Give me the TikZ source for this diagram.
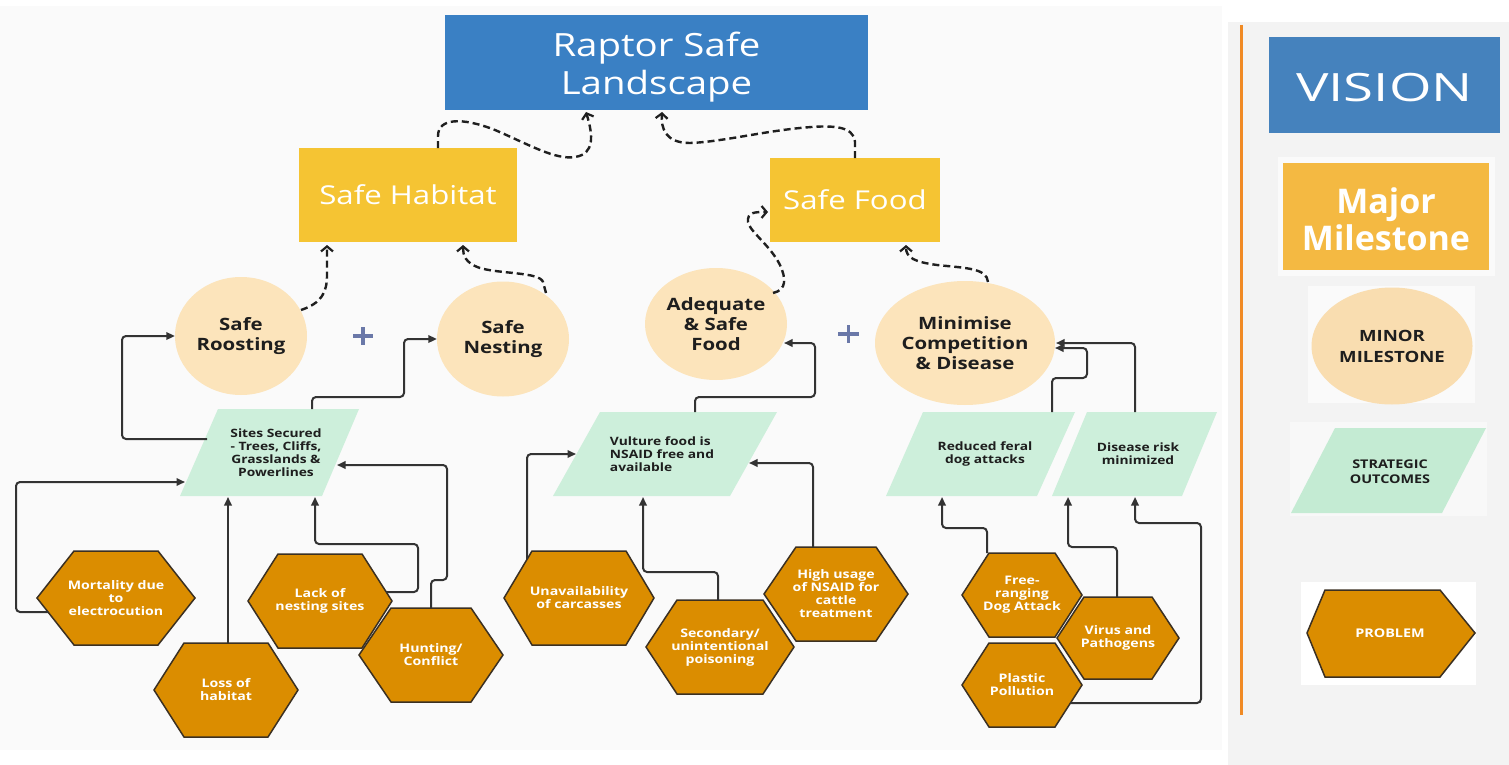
\documentclass[tikz,border=0pt]{standalone}
\usepackage{fontspec}
\setmainfont{Open Sans}[FakeStretch=1.2]
\newfontfamily\plainOS{Open Sans}
\newfontfamily\wideOS{Open Sans}[FakeStretch=1.4]
\usetikzlibrary{shapes.geometric,arrows.meta}
\definecolor{visblue}{HTML}{3A80C4}
\definecolor{majyel}{HTML}{F5C433}
\definecolor{peach}{HTML}{FCE4BB}
\definecolor{mint}{HTML}{CDEFDB}
\definecolor{hexor}{HTML}{DB8D00}
\definecolor{hexedge}{HTML}{3B3022}
\definecolor{conncol}{HTML}{333333}
\definecolor{plusc}{HTML}{6A78A8}
\definecolor{mainbg}{HTML}{FAFAFA}
\definecolor{legbg}{HTML}{F3F3F3}
\definecolor{legblue}{HTML}{4582BD}
\definecolor{legyel}{HTML}{F4B942}
\definecolor{legpeach}{HTML}{F9DDB0}
\definecolor{legmint}{HTML}{C4EBD3}
\definecolor{orangeline}{HTML}{F08A24}
\definecolor{darktext}{HTML}{1E1E1E}
\tikzset{
  conn/.style={draw=conncol, line width=2pt, rounded corners=4pt, -{Triangle[length=8.5pt,width=7.5pt]}},
  dconn/.style={draw=black!88, line width=2.4pt, dash pattern=on 7pt off 4pt, -{Straight Barb[length=5pt,width=12pt,line width=2.2pt]}},
  hexshape/.style={fill=hexor, draw=hexedge, line width=1.5pt, line join=miter},
  hextext/.style={inner sep=0pt, align=center, text=white, font=\bfseries\fontsize{11.8}{13}\selectfont},
  paratext/.style={inner sep=0pt, text=darktext, font=\bfseries\fontsize{11.5}{13}\selectfont},
  minor/.style={ellipse, fill=peach, inner sep=0pt, align=center, text=darktext, font=\bfseries\fontsize{17}{20}\selectfont},
  majbox/.style={rectangle, fill=majyel, inner sep=0pt, text=white, font=\fontsize{26}{30}\selectfont},
  visbox/.style={rectangle, fill=visblue, inner sep=0pt},
  vistext/.style={inner sep=0pt, align=center, text=white, font=\fontsize{32}{38}\selectfont},
  plusmark/.style={draw=plusc, line width=3.5pt}
}
\newcommand{\hexnode}[7]{%
  \draw[hexshape] ({#2-#4},#3) -- ({#2-#5},{#3-#6}) -- ({#2+#5},{#3-#6}) -- ({#2+#4},#3) -- ({#2+#5},{#3+#6}) -- ({#2-#5},{#3+#6}) -- cycle;
  \node[hextext, minimum width={2*#4}, minimum height={2*#6}] (#1) at (#2,#3) {#7};}
\begin{document}
\begin{tikzpicture}[x=1pt,y=-1pt]
\useasboundingbox (0,0) rectangle (1509,765);
\fill[white] (0,0) rectangle (1509,765);
\fill[mainbg] (0,6) rectangle (1222,750);
\fill[legbg] (1228,22) rectangle (1509,765);
\draw[orangeline, line width=3pt] (1241,25) -- (1241,715);

% ---------- vision and major milestones
\node[visbox, minimum width=423, minimum height=95] (vision) at (656.5,62.5) {};
\node[vistext] (visiontext) at (656.5,67) {Raptor Safe\\Landscape};
\node[majbox, minimum width=218, minimum height=94] (habitat) at (408,195) {Safe Habitat};
\node[majbox, minimum width=170, minimum height=84] (food) at (855,200) {Safe Food};

% ---------- minor milestones
\node[minor, minimum width=132, minimum height=118] (roost) at (241,336) {Safe\\Roosting};
\node[minor, minimum width=132, minimum height=115] (nest) at (503,339) {Safe\\Nesting};
\node[minor, minimum width=142, minimum height=112] (adeq) at (716,324) {Adequate\\\& Safe\\Food};
\node[minor, minimum width=180, minimum height=124] (mini) at (965,343) {Minimise\\Competition\\\& Disease};

\draw[plusmark] (353,336) -- (373,336) (363,327) -- (363,345);
\draw[plusmark] (838,334) -- (859,334) (848.5,325) -- (848.5,343);

% ---------- strategic outcomes
\fill[mint] (218,409) -- (359,409) -- (322,496) -- (180,496) -- cycle;
\node[paratext, align=center] (sites) at (276,453) {Sites Secured\\- Trees, Cliffs,\\Grasslands \&\\Powerlines};
\fill[mint] (600,412) -- (777,412) -- (730,496) -- (553,496) -- cycle;
\node[paratext, align=left] (vult) at (662,454) {Vulture food is\\NSAID free and\\available};
\fill[mint] (923,412) -- (1075,412) -- (1037,496) -- (886,496) -- cycle;
\node[paratext, align=center] (feral) at (985,454) {Reduced feral\\dog attacks};
\fill[mint] (1087,412) -- (1217,412) -- (1182,496) -- (1052,496) -- cycle;
\node[paratext, align=center] (disease) at (1138,454) {Disease risk\\minimized};

% ---------- problems
\hexnode{mort}{116}{598}{79}{42}{47}{Mortality due\\to\\electrocution}
\hexnode{loss}{226}{690}{72}{42}{47}{Loss of\\habitat}
\hexnode{lack}{320}{601}{72}{42}{47}{Lack of\\nesting sites}
\hexnode{hunt}{431}{655}{72}{40}{47}{Hunting/\\Conflict}
\hexnode{unav}{579}{598}{75}{47}{47}{Unavailability\\of carcasses}
\hexnode{second}{720}{647}{74}{43}{47}{Secondary/\\unintentional\\poisoning}
\hexnode{high}{836}{594}{72}{40}{47}{High usage\\of NSAID for\\cattle\\treatment}
\hexnode{free}{1022}{595}{60}{33}{42}{Free-\\ranging\\Dog Attack}
\hexnode{virus}{1118}{638}{61}{34}{41}{Virus and\\Pathogens}
\hexnode{plastic}{1022}{685}{60}{33}{42}{Plastic\\Pollution}

% ---------- solid connectors
\draw[conn] (207,439) -- (122,439) |- (roost.west);
\draw[conn] (312,409) -- (312,397) -- (404,397) |- (nest.west);
\draw[conn] (48,612) -- (16,612) |- (185,482);
\draw[conn] (loss.north) ++(2,0) -- (228,497);
\draw[conn] (386,592) -- (418,592) -- (418,544) -- (315,544) -- (315,497);
\draw[conn] (hunt.north) -- (431,580) -- (447,580) |- (337,465);
\draw[conn] (695,412) -- (695,397) -- (815,397) |- (784,343);
\draw[conn] (527,559) |- (576,454);
\draw[conn] (718,600) -- (718,572) -- (643,572) -- (643,497);
\draw[conn] (813,547) |- (749,463);
\draw[conn] (1052,412) -- (1052,378) -- (1087,378) |- (1055,348);
\draw[conn] (1135,412) |- (1056,343);
\draw[conn] (987,553) -- (987,528) -- (942,528) -- (942,497);
\draw[conn] (1117,597) -- (1117,547) -- (1068,547) -- (1068,497);
\draw[conn] (1070,703) -- (1201,703) -- (1201,523) -- (1135,523) -- (1135,497);

% ---------- dashed connectors
\draw[dconn] (438,148) -- (438,136) .. controls (438,118) and (462,117) .. (495,130) .. controls (530,145) and (555,160) .. (575,157) .. controls (595,154) and (593,135) .. (586,112);
\draw[dconn] (855,158) -- (855,142) .. controls (854,125) and (830,125) .. (800,128) .. controls (760,132) and (720,142) .. (690,143) .. controls (665,143) and (661,128) .. (662,112);
\draw[dconn] (301,310) .. controls (322,303) and (327,292) .. (327,275) -- (327,245);
\draw[dconn] (546,293) -- (543,282) .. controls (540,272) and (500,274) .. (480,268) .. controls (465,263) and (463,255) .. (463,245);
\draw[dconn] (773,293) .. controls (787,290) and (786,278) .. (780,265) .. controls (770,245) and (750,232) .. (748,222) .. controls (747,212) and (755,212) .. (768,212);
\draw[dconn] (988,282) .. controls (987,268) and (965,268) .. (937,265) .. controls (915,262) and (906,258) .. (906,245);

% ---------- legend
\node[rectangle, fill=legblue, minimum width=231, minimum height=96, inner sep=0pt] (lvision) at (1384.5,85) {};
\node[inner sep=0pt, text=white, font=\wideOS\fontsize{39}{44}\selectfont] (lvisiontext) at (1384.5,88) {VISION};
\fill[white!55!legbg] (1278,157) rectangle (1495,276);
\node[rectangle, fill=legyel, minimum width=206, minimum height=107, inner sep=0pt] (lmajor) at (1386,216.5) {};
\node[inner sep=0pt, align=center, text=white, font=\plainOS\bfseries\fontsize{34}{37}\selectfont] (lmajortext) at (1386,219) {Major\\Milestone};
\fill[white!60!legbg] (1308,286) rectangle (1475,403);
\node[ellipse, fill=legpeach, minimum width=161, minimum height=117, inner sep=0pt, align=center, text=darktext, font=\bfseries\fontsize{15.5}{21}\selectfont] (lminor) at (1392,346) {MINOR\\MILESTONE};
\fill[white!40!legbg] (1290,422) rectangle (1487,516);
\fill[legmint] (1335,428) -- (1486,428) -- (1442,513) -- (1291,513) -- cycle;
\node[paratext, align=center, font=\bfseries\fontsize{12}{15}\selectfont] (lstrat) at (1390,472) {STRATEGIC\\OUTCOMES};
\fill[white] (1301,582) rectangle (1476,685);
\draw[hexshape] (1307,633) -- (1325,590) -- (1440,590) -- (1475,633) -- (1440,677) -- (1325,677) -- cycle;
\node[hextext, font=\bfseries\fontsize{12}{14}\selectfont] (lprob) at (1390,633) {PROBLEM};
\end{tikzpicture}
\end{document}
